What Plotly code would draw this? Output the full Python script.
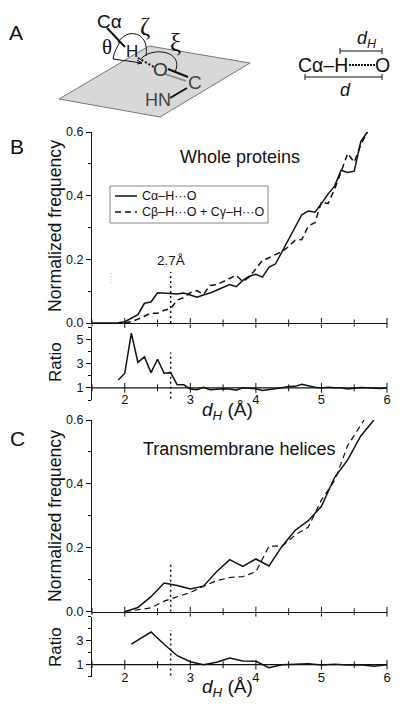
import plotly.graph_objects as go

# ---------- data ----------
bx = [1.5,1.6,1.7,1.8,1.9,2.0,2.1,2.2,2.3,2.4,2.5,2.6,2.7,2.8,2.9,3.0,3.1,3.2,3.3,3.4,3.5,3.6,3.7,3.8,3.9,4.0,4.1,4.2,4.3,4.4,4.5,4.6,4.7,4.8,4.9,5.0,5.1,5.2,5.3,5.4,5.5,5.6,5.7]
b_solid = [0,0,0,0,.001,.004,.014,.026,.062,.066,.095,.095,.093,.091,.094,.088,.081,.088,.094,.103,.113,.121,.114,.134,.147,.153,.144,.175,.186,.225,.265,.30,.34,.352,.348,.375,.405,.43,.48,.473,.477,.57,.60]
bdx = [2.0,2.1,2.2,2.3,2.4,2.5,2.6,2.7,2.8,2.9,3.0,3.1,3.2,3.3,3.4,3.5,3.6,3.7,3.8,3.9,4.0,4.1,4.2,4.3,4.4,4.5,4.6,4.7,4.8,4.9,5.0,5.1,5.2,5.3,5.4,5.5,5.6,5.7]
b_dash = [0,.004,.012,.022,.031,.031,.04,.045,.072,.08,.095,.102,.09,.118,.12,.13,.14,.15,.13,.145,.17,.197,.205,.215,.225,.24,.26,.262,.305,.315,.38,.375,.42,.475,.533,.505,.56,.60]
brx = [1.9,2.0,2.1,2.2,2.3,2.4,2.5,2.6,2.7,2.8,2.9,3.0,3.1,3.2,3.3,3.4,3.5,3.6,3.7,3.8,3.9,4.0,4.1,4.2,4.3,4.4,4.5,4.6,4.7,4.8,4.9,5.0,5.1,5.2,5.3,5.4,5.5,5.6,5.7,5.8,5.9,6.0]
b_ratio = [1.65,2.2,5.5,3.1,3.55,2.25,3.35,2.2,2.25,1.25,1.25,.9,.85,1.05,.85,.9,.92,.9,.8,1.0,.95,.93,.78,.85,.87,1.0,1.1,1.12,1.3,1.15,1.05,.98,1.05,1.0,1.0,.9,.95,1.03,1.0,.95,.95,1.0]
cx = [2.0,2.2,2.4,2.6,2.8,3.0,3.2,3.4,3.6,3.8,4.0,4.2,4.4,4.6,4.8,5.0,5.2,5.4,5.6,5.8]
c_solid = [0,.013,.047,.09,.082,.071,.08,.125,.163,.142,.165,.143,.205,.255,.285,.33,.42,.475,.55,.60]
cdx = [2.0,2.2,2.4,2.6,2.8,3.0,3.2,3.4,3.6,3.8,4.0,4.2,4.4,4.6,4.8,5.0,5.2,5.4,5.65]
c_dash = [0,.005,.012,.033,.047,.06,.08,.097,.107,.11,.125,.205,.205,.24,.265,.35,.41,.52,.60]
crx = [2.1,2.4,2.6,2.8,3.0,3.2,3.4,3.6,3.8,4.0,4.2,4.4,4.6,4.8,5.0,5.2,5.4,5.6,5.8,6.0]
c_ratio = [2.72,3.72,2.7,1.75,1.25,1.0,1.2,1.55,1.3,1.28,.75,1.0,1.03,1.07,.97,1.03,.97,1.0,.87,1.0]
major_x = [2,3,4,5,6]
minor_x = [1.5,2.5,3.5,4.5,5.5]
cut = 2.7
W, H = 400, 707
INK = "#111111"
FONT = "Liberation Sans, Arial, sans-serif"
SERIF = "Liberation Serif, serif"

def X(p): return p / W
def Y(p): return 1 - p / H

fig = go.Figure()

def line(x, y, xa, ya, dash="solid", width=1.5, name=None, color=INK):
    fig.add_trace(go.Scatter(x=x, y=y, xaxis=xa, yaxis=ya, mode="lines", name=name, showlegend=False,
                             line=dict(color=color, width=width, dash=dash), hoverinfo="skip", cliponaxis=True))

def ticks(level, xa, ya):
    for vals, sz in ((major_x, 7), (minor_x, 5)):
        fig.add_trace(go.Scatter(x=vals, y=[level]*len(vals), xaxis=xa, yaxis=ya, mode="markers", showlegend=False,
                                 marker=dict(symbol="line-ns", size=sz, line=dict(width=1, color=INK)),
                                 hoverinfo="skip", cliponaxis=False))

# panel B
line(bx, b_solid, "x", "y", name="Cα–H···O")
line(bdx, b_dash, "x", "y", dash="6px,4px", name="Cβ–H···O + Cγ–H···O")
line([cut, cut], [0, .16], "x", "y", dash="2px,3px")
ticks(0, "x", "y")
line([1.5, 6], [1, 1], "x2", "y2", width=1.2)
line(brx, b_ratio, "x2", "y2")
line([cut, cut], [.1, 3.9], "x2", "y2", dash="2px,3px")
ticks(1, "x2", "y2")
# panel C
line(cx, c_solid, "x3", "y3")
line(cdx, c_dash, "x3", "y3", dash="6px,4px", width=1.2)
line([cut, cut], [0, .155], "x3", "y3", dash="2px,3px")
ticks(0, "x3", "y3")
line([1.5, 6], [1, 1], "x4", "y4", width=1.2)
line(crx, c_ratio, "x4", "y4")
line([cut, cut], [.1, 3.9], "x4", "y4", dash="2px,3px")
ticks(1, "x4", "y4")

dom_x = [X(92), X(387)]
def main_y(top, bot, xa):
    return dict(domain=[Y(bot), Y(top)], range=[0, .6], anchor=xa, tickvals=[0, .2, .4, .6], ticktext=["0.0", "0.2", "0.4", "0.6"],
                ticks="outside", ticklen=5, tickwidth=1, tickcolor=INK, showline=True, linecolor=INK, linewidth=1,
                showgrid=False, zeroline=False, tickfont=dict(size=12.5, color=INK, family=FONT),
                minor=dict(tickvals=[.1, .3, .5], ticks="outside", ticklen=3, tickcolor=INK, showgrid=False))
def ratio_y(top, bot, rng, vals, xa):
    mv = [v for v in range(rng[0], rng[1] + 1) if v not in vals]
    return dict(domain=[Y(bot), Y(top)], range=rng, anchor=xa, tickvals=vals, ticks="outside", ticklen=5, tickwidth=1, tickcolor=INK,
                showline=True, linecolor=INK, linewidth=1, showgrid=False, zeroline=False,
                tickfont=dict(size=12.5, color=INK, family=FONT),
                minor=dict(tickvals=mv, ticks="outside", ticklen=3, tickcolor=INK, showgrid=False))
def main_x(anchor):
    return dict(domain=dom_x, range=[1.5, 6], anchor=anchor, showticklabels=False, ticks="", showline=True,
                linecolor=INK, linewidth=1.2, showgrid=False, zeroline=False)
def ratio_x(pos):
    return dict(domain=dom_x, range=[1.5, 6], anchor="free", position=Y(pos), tickvals=major_x, ticks="", showline=False,
                showgrid=False, zeroline=False, tickfont=dict(size=13, color=INK, family=FONT))

shapes, notes = [], []
def path(pts, color=INK, width=1.2, dash="solid", fill=None, close=False):
    d = "M " + " L ".join(f"{X(a):.5f},{Y(b):.5f}" for a, b in pts) + (" Z" if close else "")
    shapes.append(dict(type="path", path=d, xref="paper", yref="paper", line=dict(color=color, width=width, dash=dash),
                       fillcolor=fill or "rgba(0,0,0,0)", layer="above"))
def curve(p0, c1, c2, p1, width=1):
    f = lambda q: f"{X(q[0]):.5f},{Y(q[1]):.5f}"
    shapes.append(dict(type="path", path=f"M {f(p0)} C {f(c1)} {f(c2)} {f(p1)}", xref="paper", yref="paper",
                       line=dict(color=INK, width=width), layer="above"))
def text(s, x, y, size, color=INK, angle=0, family=FONT):
    notes.append(dict(text=s, x=X(x), y=Y(y), xref="paper", yref="paper", showarrow=False, xanchor="center", yanchor="middle",
                      textangle=angle, font=dict(size=size, color=color, family=family)))

# diagram A
path([(59, 99), (149, 46), (250, 63), (160, 117)], color="#777777", width=1, fill="#d8d8d8", close=True)
path([(107, 28), (125, 47)], width=2)
path([(138, 58), (154, 67)], width=2, dash="2px,2px")
path([(168, 69), (188, 77)], width=2)
path([(165, 74), (186, 81)], color="#888888", width=1.5)
path([(187, 88), (170, 98)], width=2)
path([(113, 59), (142, 63)], width=1)
path([(137, 60), (142, 63), (137, 64)], width=1)
curve((113, 59), (114, 52), (117, 47), (120, 42))
curve((118, 43), (125, 28), (150, 30), (146, 56))
curve((140, 60), (150, 46), (185, 50), (175, 72))
text("Cα", 109, 21, 19)
text("θ", 107, 47, 21, family=SERIF)
text("ζ", 145, 27, 25, family=SERIF)
text("ξ", 175, 43, 25, family=SERIF)
text("H", 132, 52, 17)
text("O", 160, 70, 19, color="#333333")
text("C", 195, 83, 19, color="#444444")
text("HN", 158, 100, 18, color="#444444")
# distance schematic
text("Cα–H", 323, 65, 19.5)
path([(349, 65), (376, 65)], width=2, dash="2px,1px")
text("O", 382, 65, 19.5)
path([(340, 51), (382, 51)], width=1.2)
path([(340, 48), (340, 54)], width=1)
path([(382, 48), (382, 54)], width=1)
path([(305, 77), (382, 77)], width=1.2)
path([(305, 74), (305, 80)], width=1)
path([(382, 74), (382, 80)], width=1)
text("<i>d</i><sub><i>H</i></sub>", 367, 39, 18)
text("<i>d</i>", 345, 90, 18)

text("A", 16, 33, 21)
text("B", 17, 147, 21)
text("C", 17, 438, 21)
text("Normalized frequency", 55, 226, 17.7, angle=-90)
text("Normalized frequency", 55, 516, 17.7, angle=-90)
text("Ratio", 55, 362, 17, angle=-90)
text("Ratio", 55, 647, 17, angle=-90)
text("Whole proteins", 240, 157, 18)
text("Transmembrane helices", 239, 449, 18)
text("2.7Å", 171, 260, 13.5)
text("<i>d</i><sub><i>H</i></sub> (Å)", 227, 411, 19)
text("<i>d</i><sub><i>H</i></sub> (Å)", 227, 688, 19)
path([(111, 273), (111, 285)], color="#bbbbbb", width=1, dash="1px,2px")
# legend
path([(110, 186), (268, 186), (268, 223), (110, 223)], color="#888888", width=1, close=True)
path([(115, 196), (137, 196)], width=1.5)
path([(115, 212), (137, 212)], width=1.5, dash="6px,4px")
text("Cα–H···O", 169, 196, 12.5)
text("Cβ–H···O + Cγ–H···O", 203, 212, 12.5)

fig.update_layout(
    width=W, height=H, margin=dict(l=0, r=0, t=0, b=0, autoexpand=False), paper_bgcolor="white", plot_bgcolor="rgba(0,0,0,0)",
    font=dict(family=FONT, color=INK), shapes=shapes, annotations=notes, showlegend=False,
    xaxis=main_x("y"), xaxis2=ratio_x(390), xaxis3=main_x("y3"), xaxis4=ratio_x(668),
    yaxis=main_y(132, 323, "x"), yaxis2=ratio_y(327, 400, [0, 6], [1, 3, 5], "x2"),
    yaxis3=main_y(420, 611.7, "x3"), yaxis4=ratio_y(616.7, 676.7, [0, 5], [1, 3], "x4"),
)
fig.write_html("out.html", config=dict(displayModeBar=False), post_script="document.body.style.margin='0';")
